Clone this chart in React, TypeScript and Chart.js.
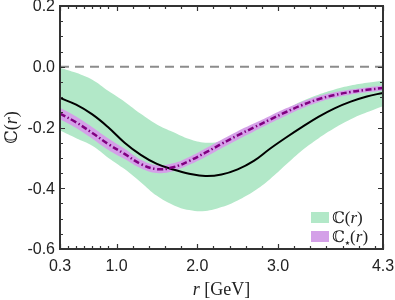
import React, { useEffect, useRef } from "react";
import { Chart, registerables } from "chart.js";

Chart.register(...registerables);

// r grid (GeV)
const R: number[] = [0.3, 0.5, 0.7, 0.9, 1.1, 1.3, 1.5, 1.7, 1.9, 2.1, 2.3, 2.5, 2.7, 2.9, 3.1, 3.3, 3.5, 3.7, 3.9, 4.1, 4.3];

// C(r) central line and band
const cCentral: number[] = [-0.103, -0.125, -0.157, -0.2, -0.25, -0.29, -0.32, -0.338, -0.352, -0.36, -0.355, -0.338, -0.31, -0.27, -0.233, -0.198, -0.165, -0.137, -0.115, -0.098, -0.086];
const cUpper: number[] = [-0.003, -0.02, -0.043, -0.08, -0.115, -0.155, -0.19, -0.215, -0.238, -0.25, -0.245, -0.225, -0.198, -0.168, -0.14, -0.113, -0.092, -0.075, -0.062, -0.053, -0.046];
const cLower: number[] = [-0.21, -0.235, -0.26, -0.3, -0.337, -0.38, -0.425, -0.455, -0.472, -0.475, -0.462, -0.44, -0.41, -0.37, -0.322, -0.275, -0.236, -0.202, -0.173, -0.15, -0.13];

// C_star(r) central line and band
const sCentral: number[] = [-0.154, -0.183, -0.218, -0.255, -0.287, -0.32, -0.337, -0.331, -0.31, -0.283, -0.254, -0.226, -0.2, -0.174, -0.149, -0.126, -0.107, -0.093, -0.083, -0.076, -0.07];
const sUpper: number[] = [-0.135, -0.164, -0.199, -0.236, -0.27, -0.306, -0.324, -0.318, -0.297, -0.269, -0.24, -0.212, -0.187, -0.162, -0.137, -0.115, -0.097, -0.084, -0.075, -0.068, -0.062];
const sLower: number[] = [-0.173, -0.202, -0.237, -0.274, -0.304, -0.334, -0.35, -0.344, -0.323, -0.297, -0.268, -0.24, -0.213, -0.186, -0.161, -0.137, -0.117, -0.102, -0.091, -0.084, -0.078];

// axis ticks
const xMajorTicks: number[] = [0.3, 1.0, 2.0, 3.0, 4.3];
const xMinorTicks: number[] = [0.4, 0.5, 0.6, 0.7, 0.8, 0.9, 1.2, 1.4, 1.6, 1.8, 2.2, 2.4, 2.6, 2.8, 3.2, 3.4, 3.6, 3.8, 4.0, 4.2];
const yMajorTicks: number[] = [-0.6, -0.4, -0.2, 0.0, 0.2];
const yMinorTicks: number[] = [-0.55, -0.5, -0.45, -0.35, -0.3, -0.25, -0.15, -0.1, -0.05, 0.05, 0.1, 0.15];

const GREEN = "rgb(178,232,200)";
const PURPLE_BAND = "rgb(212,160,232)";
const PURPLE = "rgb(128,0,128)";

const SERIF = "'Liberation Serif', 'DejaVu Serif', serif";
const BB = "'DejaVu Serif', 'DejaVu Sans', serif";
const SANS = "'Liberation Sans', Arial, sans-serif";

type Part = { t: string; f: string; dy?: number };

function richWidth(ctx: CanvasRenderingContext2D, parts: Part[]) {
  let w = 0;
  for (const p of parts) {
    ctx.font = p.f;
    w += ctx.measureText(p.t).width;
  }
  return w;
}

function drawRich(ctx: CanvasRenderingContext2D, parts: Part[], x: number, y: number) {
  let cx = x;
  ctx.textAlign = "left";
  ctx.textBaseline = "alphabetic";
  for (const p of parts) {
    ctx.font = p.f;
    ctx.fillText(p.t, cx, y + (p.dy || 0));
    cx += ctx.measureText(p.t).width;
  }
}

const fmt = (v: number) => (Math.abs(v) < 1e-9 ? "0.0" : v.toFixed(1));

const pts = (ys: number[]) => R.map((x, i) => ({ x, y: ys[i] }));

const decorPlugin = {
  id: "decor",
  afterDatasetsDraw(chart: any) {
    const ctx: CanvasRenderingContext2D = chart.ctx;
    const { left, right, top, bottom } = chart.chartArea;
    const xs = chart.scales.x;
    const ys = chart.scales.y;
    ctx.save();
    ctx.strokeStyle = "#333";
    ctx.lineWidth = 1.2;
    const major = 5;
    const minor = 3;
    ctx.beginPath();
    const xt = (v: number, len: number) => {
      const px = Math.round(xs.getPixelForValue(v)) + 0.5;
      ctx.moveTo(px, bottom);
      ctx.lineTo(px, bottom - len);
      ctx.moveTo(px, top);
      ctx.lineTo(px, top + len);
    };
    const yt = (v: number, len: number) => {
      const py = Math.round(ys.getPixelForValue(v)) + 0.5;
      ctx.moveTo(left, py);
      ctx.lineTo(left + len, py);
      ctx.moveTo(right, py);
      ctx.lineTo(right - len, py);
    };
    xMajorTicks.forEach((v) => xt(v, major));
    xMinorTicks.forEach((v) => xt(v, minor));
    yMajorTicks.forEach((v) => yt(v, major));
    yMinorTicks.forEach((v) => yt(v, minor));
    ctx.stroke();
    ctx.lineWidth = 2;
    ctx.strokeRect(left, top, right - left, bottom - top);

    // tick labels
    ctx.fillStyle = "#222";
    ctx.font = `16px ${SANS}`;
    ctx.textAlign = "center";
    ctx.textBaseline = "middle";
    xMajorTicks.forEach((v) => {
      ctx.fillText(fmt(v), xs.getPixelForValue(v), bottom + 18);
    });
    ctx.textAlign = "right";
    yMajorTicks.forEach((v) => {
      ctx.fillText(fmt(v), left - 5, ys.getPixelForValue(v) + 1);
    });

    // axis titles
    const xTitle: Part[] = [
      { t: "r", f: `italic 18px ${SERIF}` },
      { t: " [GeV]", f: `18px ${SERIF}` },
    ];
    const xw = richWidth(ctx, xTitle);
    drawRich(ctx, xTitle, (left + right) / 2 - xw / 2, 295);

    const yTitle: Part[] = [
      { t: "ℂ", f: `17px ${BB}` },
      { t: "(", f: `18px ${SERIF}` },
      { t: "r", f: `italic 18px ${SERIF}` },
      { t: ")", f: `18px ${SERIF}` },
    ];
    const yw = richWidth(ctx, yTitle);
    ctx.save();
    ctx.translate(17, (top + bottom) / 2);
    ctx.rotate(-Math.PI / 2);
    drawRich(ctx, yTitle, -yw / 2, 0);
    ctx.restore();

    // legend
    const entries: { color: string; parts: Part[] }[] = [
      {
        color: GREEN,
        parts: [
          { t: "ℂ", f: `16px ${BB}` },
          { t: "(", f: `17px ${SERIF}` },
          { t: "r", f: `italic 17px ${SERIF}` },
          { t: ")", f: `17px ${SERIF}` },
        ],
      },
      {
        color: PURPLE_BAND,
        parts: [
          { t: "ℂ", f: `16px ${BB}` },
          { t: "★", f: `6px 'DejaVu Sans', sans-serif`, dy: 3 },
          { t: "(", f: `17px ${SERIF}` },
          { t: "r", f: `italic 17px ${SERIF}` },
          { t: ")", f: `17px ${SERIF}` },
        ],
      },
    ];
    entries.forEach((e, i) => {
      const by = 212 + i * 19;
      ctx.fillStyle = e.color;
      ctx.fillRect(311, by, 18, 11);
      ctx.fillStyle = "#222";
      drawRich(ctx, e.parts, 332, by + 11);
    });
    ctx.restore();
  },
};

export default function App() {
  const ref = useRef<HTMLCanvasElement | null>(null);
  useEffect(() => {
    if (!ref.current) return;
    const band = { borderColor: "rgba(0,0,0,0)", borderWidth: 0, pointRadius: 0, tension: 0.4 };
    const chart = new Chart(ref.current, {
      type: "line",
      data: {
        datasets: [
          {
            label: "zero",
            data: [
              { x: 0.3, y: 0 },
              { x: 4.3, y: 0 },
            ],
            borderColor: "rgb(140,140,140)",
            borderWidth: 2,
            borderDash: [9, 6],
            pointRadius: 0,
            fill: false,
            order: 0,
          },
          {
            label: "C_star central",
            data: pts(sCentral),
            borderColor: PURPLE,
            borderWidth: 2.5,
            borderDash: [6, 2.5, 1.5, 2.5],
            pointRadius: 0,
            fill: false,
            tension: 0.4,
            order: 1,
          },
          {
            label: "C central",
            data: pts(cCentral),
            borderColor: "#000",
            borderWidth: 2,
            pointRadius: 0,
            fill: false,
            tension: 0.4,
            order: 2,
          },
          { label: "C_star upper", data: pts(sUpper), ...band, backgroundColor: PURPLE_BAND, fill: "+1", order: 3 },
          { label: "C_star lower", data: pts(sLower), ...band, fill: false, order: 4 },
          { label: "C upper", data: pts(cUpper), ...band, backgroundColor: GREEN, fill: "+1", order: 5 },
          { label: "C lower", data: pts(cLower), ...band, fill: false, order: 6 },
        ],
      },
      options: {
        responsive: false,
        animation: false,
        layout: { padding: { left: 0, right: 12, top: 6, bottom: 0 } },
        plugins: {
          legend: { display: false },
          tooltip: { enabled: false },
          filler: { propagate: false },
        },
        scales: {
          x: {
            type: "linear",
            min: 0.3,
            max: 4.3,
            grid: { display: false, drawTicks: false },
            border: { display: false },
            ticks: { display: false },
            afterFit: (s: any) => {
              s.height = 51;
            },
          },
          y: {
            type: "linear",
            min: -0.6,
            max: 0.2,
            grid: { display: false, drawTicks: false },
            border: { display: false },
            ticks: { display: false },
            afterFit: (s: any) => {
              s.width = 60;
            },
          },
        },
      },
      plugins: [decorPlugin],
    } as any);
    return () => chart.destroy();
  }, []);
  return (
    <div style={{ position: "absolute", left: 0, top: 0, width: 395, height: 300 }}>
      <canvas ref={ref} width={395} height={300} />
    </div>
  );
}
